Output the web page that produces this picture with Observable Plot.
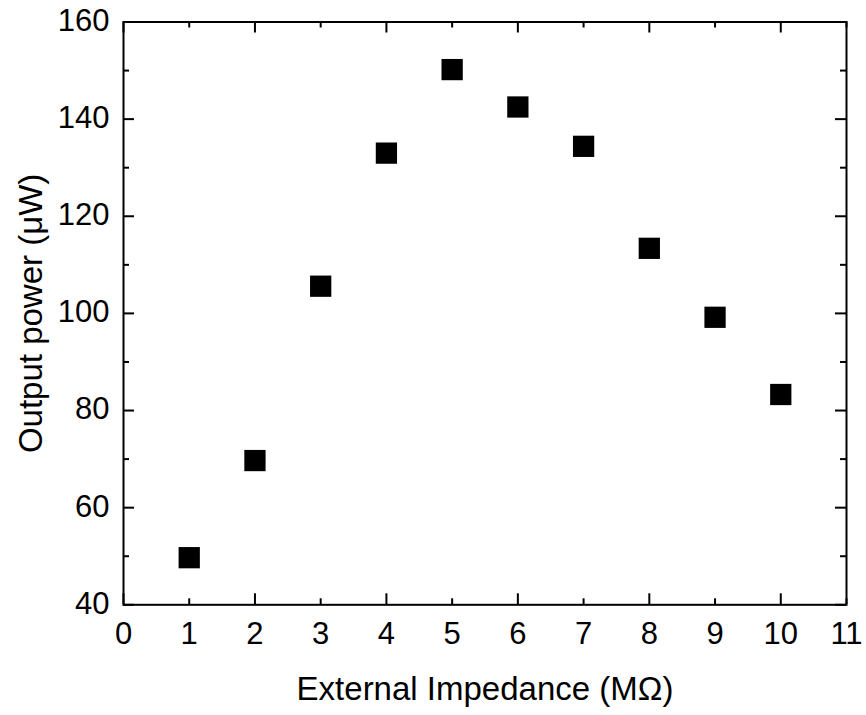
<!DOCTYPE html>
<html>
<head>
<meta charset="utf-8">
<script src="https://cdn.jsdelivr.net/npm/d3@7"></script>
<script src="https://cdn.jsdelivr.net/npm/@observablehq/plot@0.6"></script>
<style>
  html, body { margin: 0; padding: 0; background: #fff; }
</style>
</head>
<body>
<div id="chart"></div>
<script>
// ---- data ----
const impedance = [1, 2, 3, 4, 5, 6, 7, 8, 9, 10];
const power = [49.7, 69.7, 105.6, 133.0, 150.2, 142.5, 134.4, 113.4, 99.2, 83.3];

const xTickLabels = [0, 1, 2, 3, 4, 5, 6, 7, 8, 9, 10, 11];
const yTickLabels = [40, 60, 80, 100, 120, 140, 160];
const xMajorTicks = [0, 2, 4, 6, 8, 10];
const xMinorTicks = [1, 3, 5, 7, 9, 11];
const yMajorTicks = [40, 60, 80, 100, 120, 140, 160];
const yMinorTicks = [50, 70, 90, 110, 130, 150];

const xTitle = "External Impedance (MΩ)";
const yTitle = "Output power (μW)";

// ---- layout ----
const W = 866, H = 715;
const mL = 123, mR = 20, mT = 21.5, mB = 110.7;
const plotH = H - mT - mB, plotW = W - mL - mR;
const majorLen = 11, minorLen = 6;

const points = impedance.map((x, i) => ({x, y: power[i]}));

const tickStyle = {stroke: "black", strokeWidth: 2};

const chart = Plot.plot({
  width: W,
  height: H,
  marginLeft: mL,
  marginRight: mR,
  marginTop: mT,
  marginBottom: mB,
  style: {fontFamily: "'Liberation Sans', Arial, sans-serif", fontSize: "31px", color: "black", background: "white"},
  x: {domain: [0, 11]},
  y: {domain: [40, 160]},
  marks: [
    // inward ticks: bottom
    Plot.tickX(xMajorTicks, {x: d => d, insetTop: plotH - majorLen, ...tickStyle}),
    Plot.tickX(xMinorTicks, {x: d => d, insetTop: plotH - minorLen, ...tickStyle}),
    // top
    Plot.tickX(xMajorTicks, {x: d => d, insetBottom: plotH - majorLen, ...tickStyle}),
    Plot.tickX(xMinorTicks, {x: d => d, insetBottom: plotH - minorLen, ...tickStyle}),
    // left
    Plot.tickY(yMajorTicks, {y: d => d, insetRight: plotW - majorLen, ...tickStyle}),
    Plot.tickY(yMinorTicks, {y: d => d, insetRight: plotW - minorLen, ...tickStyle}),
    // right
    Plot.tickY(yMajorTicks, {y: d => d, insetLeft: plotW - majorLen, ...tickStyle}),
    Plot.tickY(yMinorTicks, {y: d => d, insetLeft: plotW - minorLen, ...tickStyle}),
    Plot.frame({stroke: "black", strokeWidth: 2}),
    Plot.axisX({ticks: xTickLabels, tickSize: 0, tickPadding: 17, tickFormat: d => String(d), fontSize: 31, label: null}),
    Plot.axisY({ticks: yTickLabels, tickSize: 0, tickPadding: 14, tickFormat: d => String(d), fontSize: 31, dy: -1, label: null}),
    Plot.dot(points, {x: "x", y: "y", symbol: "square", r: 12, fill: "black", stroke: null}),
    Plot.text([xTitle], {frameAnchor: "bottom", text: d => d, textAnchor: "middle", lineAnchor: "bottom", dy: 95, fontSize: 33, fill: "black"}),
    Plot.text([yTitle], {frameAnchor: "left", text: d => d, textAnchor: "middle", rotate: -90, lineAnchor: "bottom", dx: -82, fontSize: 33, fill: "black"})
  ]
});

document.getElementById("chart").appendChild(chart);
</script>
</body>
</html>
